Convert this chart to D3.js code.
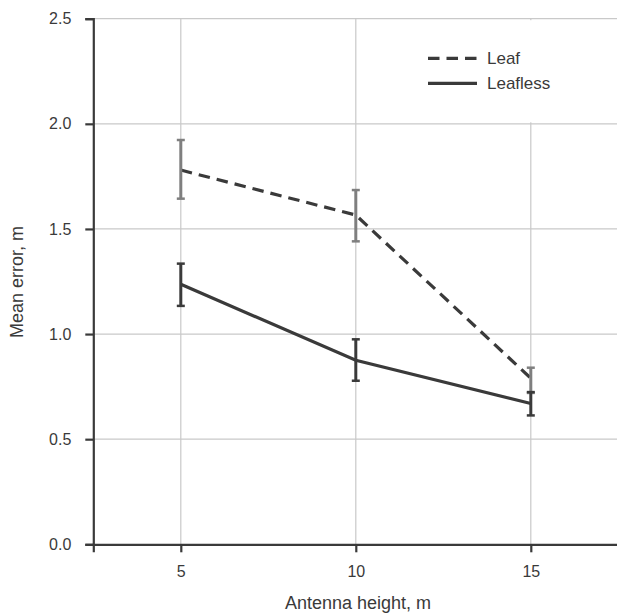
<!DOCTYPE html>
<html>
<head>
<meta charset="utf-8">
<script src="https://cdn.jsdelivr.net/npm/d3@7"></script>
<style>
  body { margin: 0; background: #fff; }
  text { font-family: "Liberation Sans", Arial, sans-serif; fill: #3a3a3a; }
</style>
</head>
<body>
<script>
const heights = [5, 10, 15];
const leafMean = [1.78, 1.566, 0.79];
const leafLow = [1.644, 1.441, 0.72];
const leafHigh = [1.923, 1.685, 0.84];
const leaflessMean = [1.237, 0.875, 0.67];
const leaflessLow = [1.134, 0.778, 0.613];
const leaflessHigh = [1.335, 0.975, 0.724];
const yTicks = [0, 0.5, 1.0, 1.5, 2.0, 2.5];
const seriesNames = ["Leaf", "Leafless"];

const W = 617, H = 615;
const svg = d3.select("body").append("svg").attr("width", W).attr("height", H);

const x = d3.scaleLinear().domain([2.5, 17.5]).range([93.3, 618.3]);
const y = d3.scaleLinear().domain([0, 2.5]).range([544.3, 18.7]);

// grid
const grid = svg.append("g");
grid.selectAll("line.h").data(yTicks.slice(1)).join("line")
  .attr("x1", x(2.5)).attr("x2", W)
  .attr("y1", d => y(d)).attr("y2", d => y(d))
  .attr("stroke", "#c9c9c9").attr("stroke-width", 1.2);
grid.selectAll("line.v").data(heights).join("line")
  .attr("x1", d => x(d)).attr("x2", d => x(d))
  .attr("y1", y(2.5)).attr("y2", y(0))
  .attr("stroke", "#c9c9c9").attr("stroke-width", 1.2);

// legend background
svg.append("rect").attr("x", 410).attr("y", y(2.5) + 1.5)
  .attr("width", W - 410).attr("height", y(2.0) - y(2.5) - 3)
  .attr("fill", "#fff");

// axes
const yAxis = svg.append("g").attr("transform", `translate(${x(2.5)},0)`)
  .call(d3.axisLeft(y).tickValues(yTicks).tickFormat(d3.format(".1f"))
    .tickSize(8).tickSizeOuter(8).tickPadding(14));
const xAxis = svg.append("g").attr("transform", `translate(0,${y(0)})`)
  .call(d3.axisBottom(x).tickValues(heights).tickFormat(d3.format("d"))
    .tickSize(8).tickSizeOuter(8).tickPadding(13));
[yAxis, xAxis].forEach(a => {
  a.attr("font-size", 16);
  a.select(".domain").attr("stroke", "#3a3a3a").attr("stroke-width", 2.2);
  a.selectAll(".tick line").attr("stroke", "#3a3a3a").attr("stroke-width", 2.2);
  a.selectAll(".tick text").attr("font-size", 16).attr("fill", "#444")
    .style("font-family", "'Liberation Sans', Arial, sans-serif");
});

// axis titles
svg.append("text").attr("x", 358).attr("y", 609).attr("text-anchor", "middle")
  .attr("font-size", 18).attr("fill", "#444").text("Antenna height, m");
svg.append("text").attr("transform", `translate(23,282) rotate(-90)`)
  .attr("text-anchor", "middle").attr("font-size", 18).attr("fill", "#444").text("Mean error, m");

const line = d3.line().x(d => x(d[0])).y(d => y(d[1]));

// lines
svg.append("path").datum(heights.map((h, i) => [h, leafMean[i]]))
  .attr("d", line).attr("fill", "none").attr("stroke", "#3a3a3a")
  .attr("stroke-width", 3.2).attr("stroke-dasharray", "11.5,7");
svg.append("path").datum(heights.map((h, i) => [h, leaflessMean[i]]))
  .attr("d", line).attr("fill", "none").attr("stroke", "#3a3a3a")
  .attr("stroke-width", 3.2);

function errorBars(lo, hi, color) {
  const g = svg.append("g");
  const data = heights.map((h, i) => ({h, lo: lo[i], hi: hi[i]}));
  g.selectAll("line.s").data(data).join("line")
    .attr("x1", d => x(d.h)).attr("x2", d => x(d.h))
    .attr("y1", d => y(d.lo)).attr("y2", d => y(d.hi))
    .attr("stroke", color).attr("stroke-width", 3);
  ["lo", "hi"].forEach(k => {
    g.selectAll("line." + k).data(data).join("line")
      .attr("x1", d => x(d.h) - 4).attr("x2", d => x(d.h) + 4)
      .attr("y1", d => y(d[k])).attr("y2", d => y(d[k]))
      .attr("stroke", color).attr("stroke-width", 2.5);
  });
}
errorBars(leafLow, leafHigh, "#7f7f7f");
errorBars(leaflessLow, leaflessHigh, "#3a3a3a");

// legend
const lg = svg.append("g");
const legY = [58.3, 83.3];
lg.append("line").attr("x1", 428).attr("x2", 477).attr("y1", legY[0]).attr("y2", legY[0])
  .attr("stroke", "#3a3a3a").attr("stroke-width", 3.2).attr("stroke-dasharray", "11.5,7");
lg.append("line").attr("x1", 428).attr("x2", 477).attr("y1", legY[1]).attr("y2", legY[1])
  .attr("stroke", "#3a3a3a").attr("stroke-width", 3.2);
lg.selectAll("text").data(seriesNames).join("text")
  .attr("x", 487).attr("y", (d, i) => legY[i] + 6)
  .attr("font-size", 17).attr("fill", "#444").text(d => d);
</script>
</body>
</html>
